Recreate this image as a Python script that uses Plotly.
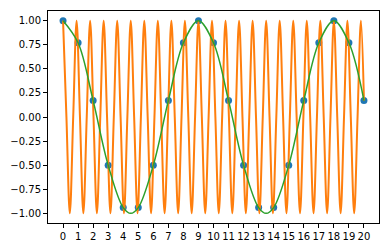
import plotly.graph_objects as go

# sampled points (blue)
sample_x = list(range(21))
sample_y = [1.0, 0.77, 0.17, -0.5, -0.94, -0.94, -0.5, 0.17, 0.77, 1.0, 0.77,
            0.17, -0.5, -0.94, -0.94, -0.5, 0.17, 0.77, 1.0, 0.77, 0.17]

# fast oscillating curve (orange): extrema and zero crossings
fast_x = [0, 0.225, 0.45, 0.675, 0.9, 1.125, 1.35, 1.575, 1.8, 2.025, 2.25, 2.475,
          2.7, 2.925, 3.15, 3.375, 3.6, 3.825, 4.05, 4.275, 4.5, 4.725, 4.95, 5.175,
          5.4, 5.625, 5.85, 6.075, 6.3, 6.525, 6.75, 6.975, 7.2, 7.425, 7.65, 7.875,
          8.1, 8.325, 8.55, 8.775, 9.0, 9.225, 9.45, 9.675, 9.9, 10.125, 10.35,
          10.575, 10.8, 11.025, 11.25, 11.475, 11.7, 11.925, 12.15, 12.375, 12.6,
          12.825, 13.05, 13.275, 13.5, 13.725, 13.95, 14.175, 14.4, 14.625, 14.85,
          15.075, 15.3, 15.525, 15.75, 15.975, 16.2, 16.425, 16.65, 16.875, 17.1,
          17.325, 17.55, 17.775, 18.0, 18.225, 18.45, 18.675, 18.9, 19.125, 19.35,
          19.575, 19.8, 20.0]
fast_y = [1, 0, -1, 0, 1, 0, -1, 0, 1, 0, -1, 0, 1, 0, -1, 0, 1, 0, -1, 0,
          1, 0, -1, 0, 1, 0, -1, 0, 1, 0, -1, 0, 1, 0, -1, 0, 1, 0, -1, 0,
          1, 0, -1, 0, 1, 0, -1, 0, 1, 0, -1, 0, 1, 0, -1, 0, 1, 0, -1, 0,
          1, 0, -1, 0, 1, 0, -1, 0, 1, 0, -1, 0, 1, 0, -1, 0, 1, 0, -1, 0,
          1, 0, -1, 0, 1, 0, -1, 0, 1, 0.17]

# slow curve (green): samples plus the minima read between them
slow_x = [0, 1, 2, 3, 4, 4.5, 5, 6, 7, 8, 9, 10, 11, 12, 13, 13.5, 14, 15, 16, 17,
          18, 19, 20]
slow_y = [1.0, 0.77, 0.17, -0.5, -0.94, -1.0, -0.94, -0.5, 0.17, 0.77, 1.0, 0.77,
          0.17, -0.5, -0.94, -1.0, -0.94, -0.5, 0.17, 0.77, 1.0, 0.77, 0.17]

x_ticks = list(range(21))
y_ticks = [-1.0, -0.75, -0.5, -0.25, 0.0, 0.25, 0.5, 0.75, 1.0]

fig = go.Figure()
fig.add_trace(go.Scatter(x=sample_x, y=sample_y, mode="markers",
                         marker=dict(color="#1f77b4", size=7, line=dict(width=0))))
fig.add_trace(go.Scatter(x=fast_x, y=fast_y, mode="lines",
                         line=dict(color="#ff7f0e", width=2, shape="spline", smoothing=1.0)))
fig.add_trace(go.Scatter(x=slow_x, y=slow_y, mode="lines",
                         line=dict(color="#2ca02c", width=1.5, shape="spline", smoothing=1.0)))

axis_common = dict(showgrid=False, zeroline=False, showline=True, mirror=True,
                   linecolor="black", linewidth=1, ticks="outside", ticklen=4,
                   tickcolor="black", tickwidth=1,
                   tickfont=dict(family="DejaVu Sans", size=10, color="black"))
fig.update_xaxes(range=[-1, 21], tickvals=x_ticks, ticktext=[str(v) for v in x_ticks],
                 **axis_common)
fig.update_yaxes(range=[-1.1, 1.1], tickvals=y_ticks,
                 ticktext=[("\u2212" if v < 0 else "") + f"{abs(v):.2f}" for v in y_ticks],
                 **axis_common)
fig.update_layout(width=390, height=252, margin=dict(l=45, r=10, t=11, b=24),
                  plot_bgcolor="white", paper_bgcolor="white", showlegend=False)
fig.write_html("out.html")
